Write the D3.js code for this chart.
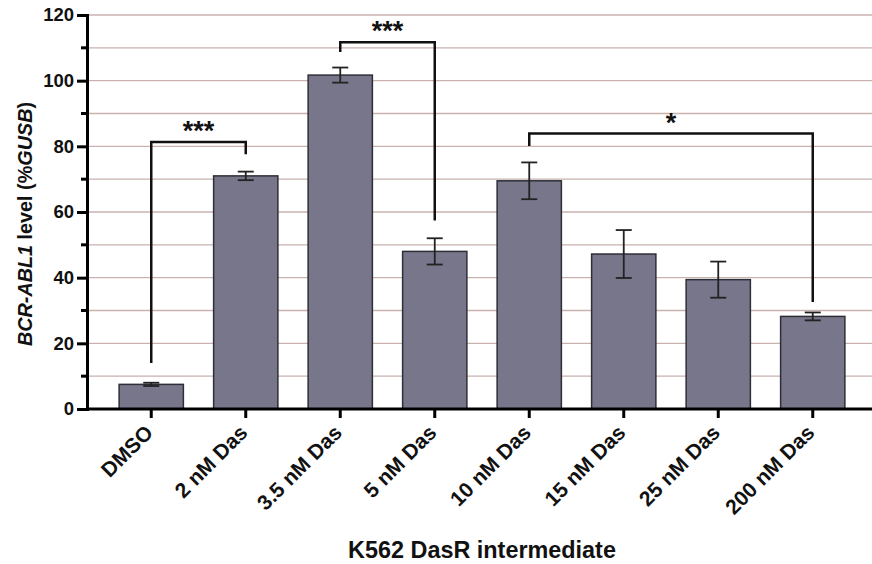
<!DOCTYPE html>
<html>
<head>
<meta charset="utf-8">
<script src="https://cdn.jsdelivr.net/npm/d3@7"></script>
<style>
  body { margin: 0; background: #fff; }
  text { font-family: Arial, "Liberation Sans", sans-serif; font-weight: bold; }
</style>
</head>
<body>
<div class="chart"></div>
<script>
// data
var groups = ["DMSO", "2 nM Das", "3.5 nM Das", "5 nM Das", "10 nM Das", "15 nM Das", "25 nM Das", "200 nM Das"];
var means = [7.5, 71, 101.7, 48, 69.5, 47.2, 39.4, 28.2];
var errs = [0.5, 1.3, 2.3, 4, 5.6, 7.3, 5.5, 1.2];
var yTicks = [0, 20, 40, 60, 80, 100, 120];

// significance brackets: from group, to group, bar height, left leg end, right leg end, label
var sigFrom = ["DMSO", "3.5 nM Das", "10 nM Das"];
var sigTo = ["2 nM Das", "5 nM Das", "200 nM Das"];
var sigTop = [81.3, 111.7, 83.9];
var sigLeft = [14, 108.7, 80.1];
var sigRight = [77.6, 57.4, 32.6];
var sigLabel = ["***", "***", "*"];

var svgWidth = 872;
var svgHeight = 564;

var svg = d3.select(".chart")
  .append("svg")
  .attr("width", svgWidth)
  .attr("height", svgHeight);

var x = d3.scaleBand()
  .domain(groups)
  .range([104, 860])
  .paddingInner(0.32)
  .paddingOuter(0.16);

var y = d3.scaleLinear()
  .domain([0, 120])
  .range([409, 15]);

var cx = function(g) { return x(g) + x.bandwidth() / 2; };

// gridlines every 10
svg.append("g")
  .selectAll("line")
  .data(d3.range(10, 121, 10))
  .enter()
  .append("line")
  .attr("x1", 88)
  .attr("x2", 872)
  .attr("y1", d => y(d))
  .attr("y2", d => y(d))
  .attr("stroke", "#c9b2ae")
  .attr("stroke-width", 1.3);

// bars
svg.append("g")
  .selectAll("rect")
  .data(groups)
  .enter()
  .append("rect")
  .attr("x", d => x(d))
  .attr("y", (d, i) => y(means[i]))
  .attr("width", x.bandwidth())
  .attr("height", (d, i) => y(0) - y(means[i]))
  .attr("fill", "#77768a")
  .attr("stroke", "#2e2e36")
  .attr("stroke-width", 1.5);

// error bars
var eb = svg.append("g").attr("stroke", "#222").attr("stroke-width", 1.8);
groups.forEach(function(g, i) {
  var c = cx(g);
  eb.append("line").attr("x1", c).attr("x2", c)
    .attr("y1", y(means[i] + errs[i])).attr("y2", y(means[i] - errs[i]));
  eb.append("line").attr("x1", c - 8).attr("x2", c + 8)
    .attr("y1", y(means[i] + errs[i])).attr("y2", y(means[i] + errs[i]));
  eb.append("line").attr("x1", c - 8).attr("x2", c + 8)
    .attr("y1", y(means[i] - errs[i])).attr("y2", y(means[i] - errs[i]));
});

// y axis
var leftAxis = d3.axisLeft(y).tickValues(yTicks).tickSize(10).tickPadding(3);
var yAxis = svg.append("g")
  .attr("transform", "translate(87,0)")
  .call(leftAxis);
yAxis.select(".domain").attr("stroke", "#000").attr("stroke-width", 3);
yAxis.selectAll(".tick line").attr("stroke", "#000").attr("stroke-width", 3);
yAxis.selectAll(".tick text").attr("font-size", 18.5).attr("fill", "#111")
  .attr("font-family", "Arial, 'Liberation Sans', sans-serif").attr("font-weight", "bold");

// minor ticks
svg.append("g")
  .selectAll("line")
  .data(d3.range(10, 120, 20))
  .enter()
  .append("line")
  .attr("x1", 81)
  .attr("x2", 87)
  .attr("y1", d => y(d))
  .attr("y2", d => y(d))
  .attr("stroke", "#000")
  .attr("stroke-width", 3);

// x axis
var bottomAxis = d3.axisBottom(x).tickSize(9).tickSizeOuter(0).tickFormat("");
var xAxis = svg.append("g")
  .attr("transform", "translate(0,409)")
  .call(bottomAxis);
xAxis.select(".domain").attr("d", "M86,0H872").attr("stroke", "#000").attr("stroke-width", 3);
xAxis.selectAll(".tick line").attr("stroke", "#000").attr("stroke-width", 3);

// rotated category labels
svg.append("g")
  .selectAll("text")
  .data(groups)
  .enter()
  .append("text")
  .attr("transform", d => "translate(" + (cx(d) + 3) + ",434) rotate(-45)")
  .attr("text-anchor", "end")
  .attr("font-size", 21)
  .attr("fill", "#111")
  .text(d => d);

// significance brackets
var br = svg.append("g");
sigFrom.forEach(function(f, i) {
  var x1 = cx(f), x2 = cx(sigTo[i]);
  br.append("path")
    .attr("d", "M" + x1 + "," + y(sigLeft[i]) + "V" + y(sigTop[i]) + "H" + x2 + "V" + y(sigRight[i]))
    .attr("fill", "none")
    .attr("stroke", "#111")
    .attr("stroke-width", 2.5);
  br.append("text")
    .attr("x", (x1 + x2) / 2)
    .attr("y", y(sigTop[i]) - 2)
    .attr("text-anchor", "middle")
    .attr("font-size", 27)
    .attr("fill", "#111")
    .text(sigLabel[i]);
});

// axis titles
var yTitle = svg.append("text")
  .attr("transform", "translate(32,224) rotate(-90)")
  .attr("text-anchor", "middle")
  .attr("font-size", 19.8)
  .attr("fill", "#111");
yTitle.append("tspan").attr("font-style", "italic").text("BCR-ABL1");
yTitle.append("tspan").text(" level (%");
yTitle.append("tspan").attr("font-style", "italic").text("GUSB");
yTitle.append("tspan").text(")");

svg.append("text")
  .attr("x", 482)
  .attr("y", 558)
  .attr("text-anchor", "middle")
  .attr("font-size", 23.4)
  .attr("fill", "#111")
  .text("K562 DasR intermediate");
</script>
</body>
</html>
